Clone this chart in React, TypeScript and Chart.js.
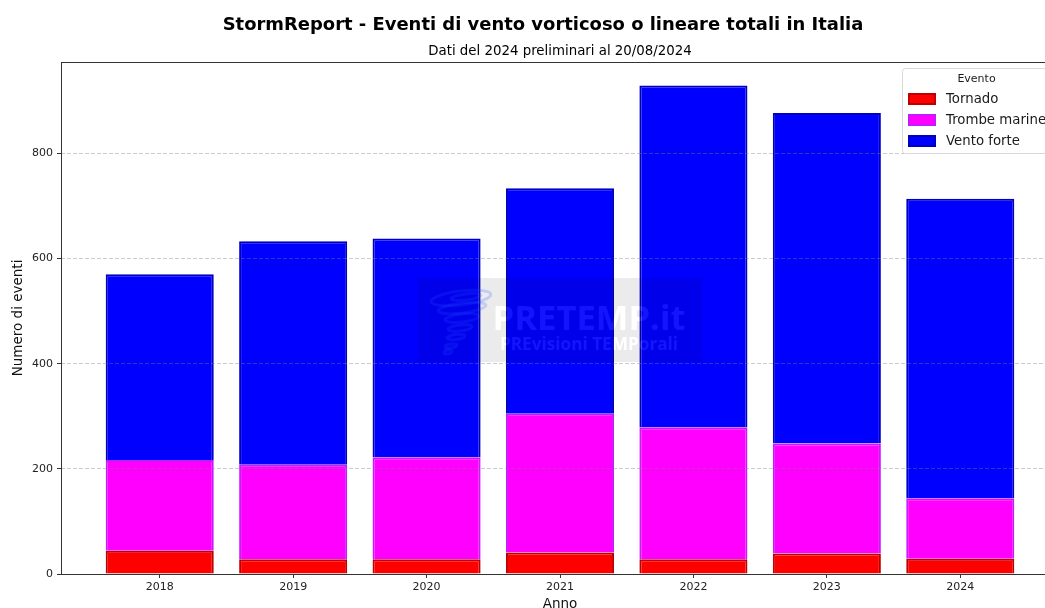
import React, { useEffect, useRef } from "react";
import { Chart, registerables } from "chart.js";

Chart.register(...registerables);

const years = ["2018", "2019", "2020", "2021", "2022", "2023", "2024"];
const tornado = [44, 28, 28, 41, 28, 39, 29];
const trombe = [173, 180, 194, 264, 251, 209, 115];
const vento = [353, 425, 416, 429, 650, 629, 570];
const yTicks = [0, 200, 400, 600, 800];

const titleText = "StormReport - Eventi di vento vorticoso o lineare totali in Italia";
const subtitleText = "Dati del 2024 preliminari al 20/08/2024";
const FONT = "'DejaVu Sans', sans-serif";
const WM_FONT = "'Open Sans', 'Noto Sans', sans-serif";

const toPoints = (values: number[]) => values.map((y, x) => ({ x, y }));

const frame = {
  id: "frame",
  afterDraw(chart: any) {
    const { ctx, chartArea: a } = chart;
    const l = Math.round(a.left) + 0.5;
    const t = Math.round(a.top) + 0.5;
    const b = Math.round(a.bottom) + 0.5;
    ctx.save();
    ctx.strokeStyle = "#333";
    ctx.lineWidth = 1;
    ctx.strokeRect(l, t, a.right - l, b - t);
    ctx.restore();
  },
};

const watermark = {
  id: "watermark",
  afterDatasetsDraw(chart: any) {
    const off = document.createElement("canvas");
    off.width = 284;
    off.height = 84;
    const c = off.getContext("2d") as CanvasRenderingContext2D;
    const ox = 418;
    const oy = 278;
    c.fillStyle = "rgba(0,0,0,0.08)";
    c.fillRect(0, 0, 284, 84);
    const paint = () => {
      c.textBaseline = "alphabetic";
      c.textAlign = "center";
      c.font = "700 34.6px " + WM_FONT;
      c.fillText("PRETEMP.it", 589 - ox, 330 - oy);
      c.font = "700 17.2px " + WM_FONT;
      c.fillText("PREvisioni TEMPorali", 589 - ox, 350 - oy);
    };
    c.globalCompositeOperation = "destination-out";
    c.fillStyle = "#000";
    paint();
    c.globalCompositeOperation = "source-over";
    c.fillStyle = "rgba(255,255,255,0.08)";
    paint();
    const rings: number[][] = [
      [461, 298, 30, 7],
      [466, 297, 15, 3],
      [462, 308, 24, 5],
      [462, 318, 17, 4],
      [460, 328, 12, 3],
      [456, 337, 9, 2.5],
      [451, 346, 6, 2],
      [448, 352, 4, 2],
    ];
    c.strokeStyle = "rgba(40,80,255,0.2)";
    c.lineWidth = 3;
    rings.forEach(([x, y, rx, ry]) => {
      c.beginPath();
      c.ellipse(x - ox, y - oy, rx, ry, -0.12, 0, Math.PI * 2);
      c.stroke();
    });
    chart.ctx.drawImage(off, ox, oy);
  },
};

const legendBox = {
  id: "legendBox",
  afterDraw(chart: any) {
    const { ctx } = chart;
    ctx.save();
    ctx.fillStyle = "rgba(255,255,255,0.9)";
    ctx.strokeStyle = "#d9d9d9";
    ctx.lineWidth = 1;
    ctx.beginPath();
    ctx.roundRect(902.5, 68.5, 150, 85, 3);
    ctx.fill();
    ctx.stroke();
    ctx.fillStyle = "#1a1a1a";
    ctx.textBaseline = "middle";
    ctx.textAlign = "center";
    ctx.font = "11px " + FONT;
    ctx.fillText("Evento", 976.5, 79);
    ctx.textAlign = "left";
    ctx.font = "13.3px " + FONT;
    chart.data.datasets.forEach((d: any, i: number) => {
      const y = 93 + i * 21;
      ctx.fillStyle = d.backgroundColor;
      ctx.fillRect(908, y, 28, 11);
      ctx.strokeStyle = d.borderColor;
      ctx.lineWidth = 2;
      ctx.strokeRect(909, y + 1, 26, 10);
      ctx.fillStyle = "#1a1a1a";
      ctx.fillText(d.label, 946, y + 7);
    });
    ctx.restore();
  },
};

export default function App() {
  const ref = useRef<HTMLCanvasElement | null>(null);

  useEffect(() => {
    const chart = new Chart(ref.current as HTMLCanvasElement, {
      type: "bar",
      data: {
        datasets: [
          { label: "Tornado", data: toPoints(tornado), backgroundColor: "#ff0000", borderColor: "#c00000" },
          { label: "Trombe marine", data: toPoints(trombe), backgroundColor: "#ff00ff", borderColor: "#c818ff" },
          { label: "Vento forte", data: toPoints(vento), backgroundColor: "#0000ff", borderColor: "#0000c0" },
        ] as any,
      },
      plugins: [frame, watermark, legendBox],
      options: {
        responsive: false,
        animation: false,
        layout: { padding: { left: 0, right: 0, top: 0, bottom: 7 } },
        datasets: {
          bar: { barPercentage: 1, categoryPercentage: 0.81, borderWidth: 2, borderSkipped: "bottom" },
        },
        plugins: {
          legend: { display: false },
          tooltip: { enabled: false },
          title: {
            display: true,
            text: titleText,
            color: "#000",
            font: { family: FONT, size: 17.95, weight: "bold", lineHeight: 1.2 },
            padding: { top: 15, bottom: 6.5 },
          },
          subtitle: {
            display: true,
            text: subtitleText,
            fullSize: false,
            color: "#000",
            font: { family: FONT, size: 13.35, weight: "normal", lineHeight: 1.2 },
            padding: { top: 0, bottom: 2.9 },
          },
        },
        scales: {
          x: {
            type: "linear",
            stacked: true,
            offset: false,
            min: -0.74,
            max: 6.74,
            afterBuildTicks: (axis: any) => {
              axis.ticks = years.map((_, value) => ({ value }));
            },
            afterFit: (axis: any) => {
              axis.height = 39;
            },
            ticks: {
              callback: (v: any) => years[v] ?? "",
              color: "#222",
              font: { family: FONT, size: 11 },
              maxRotation: 0,
              autoSkip: false,
              padding: 3,
            },
            grid: { offset: false, drawOnChartArea: false, drawTicks: true, tickLength: 4, tickColor: "#333" },
            border: { display: false },
            title: {
              display: true,
              text: "Anno",
              color: "#111",
              font: { family: FONT, size: 13.5 },
              padding: { top: 3, bottom: 0 },
            },
          },
          y: {
            stacked: true,
            min: 0,
            max: 974,
            afterBuildTicks: (axis: any) => {
              axis.ticks = yTicks.map((value) => ({ value }));
            },
            afterFit: (axis: any) => {
              axis.width = 61;
            },
            ticks: {
              autoSkip: false,
              color: "#222",
              font: { family: FONT, size: 11 },
              padding: 4,
            },
            grid: {
              z: 1,
              color: "rgba(128,128,128,0.4)",
              lineWidth: 1,
              tickLength: 4,
              tickColor: "#333",
            },
            border: { display: false, dash: [4, 2] },
            title: {
              display: true,
              text: "Numero di eventi",
              color: "#111",
              font: { family: FONT, size: 13.5 },
              padding: { top: 10, bottom: 0 },
            },
          },
          spacer: {
            type: "linear",
            axis: "y",
            position: "right",
            afterFit: (axis: any) => {
              axis.width = 27;
            },
            ticks: { display: false },
            grid: { display: false },
            border: { display: false },
          },
        },
      } as any,
    });
    return () => chart.destroy();
  }, []);

  return (
    <div style={{ position: "fixed", left: 0, top: 0, width: 1045, height: 608, overflow: "hidden", background: "#fff" }}>
      <canvas ref={ref} width={1086} height={620} style={{ display: "block" }} />
    </div>
  );
}
